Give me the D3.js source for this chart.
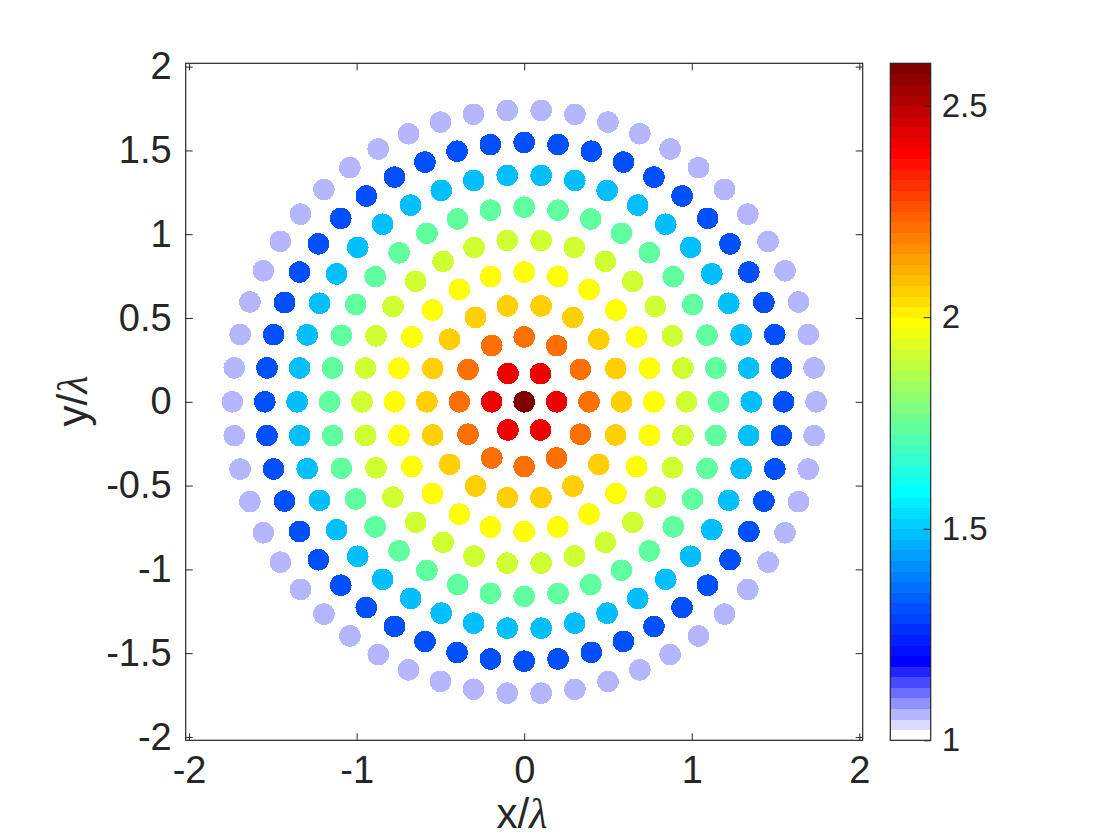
<!DOCTYPE html>
<html>
<head>
<meta charset="utf-8">
<script src="https://cdn.jsdelivr.net/npm/d3@7"></script>
<style>
  html, body { margin: 0; padding: 0; background: #fff; }
  svg text { font-family: "Liberation Sans", Arial, Helvetica, sans-serif; fill: #262626; }
  .axis line { stroke: #262626; stroke-width: 1; }
  .axis path { display: none; }
</style>
</head>
<body>
<svg id="chart" width="1120" height="840"></svg>
<script>
// Concentric rings of emitters: ring index 0 is the centre point
const ringRadius = [0, 0.194, 0.387, 0.581, 0.774, 0.968, 1.161, 1.355, 1.548, 1.742];
const ringCount = [1, 6, 12, 18, 24, 30, 36, 42, 48, 54];
const ringValue = [2.6, 2.41, 2.21, 2.06, 1.99, 1.91, 1.74, 1.49, 1.31, 1.06];

// Axis ticks
const xTicks = [-2, -1, 0, 1, 2];
const yTicks = [-2, -1.5, -1, -0.5, 0, 0.5, 1, 1.5, 2];
const cbTicks = [1, 1.5, 2, 2.5];

// Colormap: 7 white->blue steps followed by the upper part of jet (64 levels total)
const cmapLevels = 64;
const cmapStops = [0, 7, 23, 39, 55, 63];
const cmapColors = ['#ffffff', '#0000ff', '#00ffff', '#ffff00', '#ff0000', '#800000'];
const cLim = [1, 2.6];

const svg = d3.select('#chart');
const fmt = d => String(d); // plain hyphen minus like matlab

// plot box
const box = { left: 185.7, right: 862.7, top: 63.3, bottom: 740.3 };
const x = d3.scaleLinear().domain([-2.02, 2.02]).range([box.left, box.right]);
const y = d3.scaleLinear().domain([-2.02, 2.02]).range([box.bottom, box.top]);

// build the 64 colour levels
const stopScale = d3.scaleLinear().domain(cmapStops).range(cmapColors).interpolate(d3.interpolateRgb);
const levels = d3.range(cmapLevels).map(k => stopScale(k));
const color = d3.scaleQuantize().domain(cLim).range(levels);

// points from rings
const points = [];
ringRadius.forEach((r, i) => {
    for (let k = 0; k < ringCount[i]; k++) {
        const a = 2 * Math.PI * k / ringCount[i];
        points.push({ x: r * Math.cos(a), y: r * Math.sin(a), v: ringValue[i] });
    }
});

svg.append('g')
    .selectAll('circle')
    .data(points)
    .enter()
    .append('circle')
    .attr('cx', d => x(d.x))
    .attr('cy', d => y(d.y))
    .attr('r', 10.8)
    .attr('fill', d => color(d.v))
    .attr('shape-rendering', 'crispEdges');

// axes with inward ticks on all four sides
svg.append('g')
    .attr('class', 'axis')
    .attr('transform', `translate(0,${box.bottom})`)
    .call(d3.axisBottom(x).tickValues(xTicks).tickSizeInner(-7).tickSizeOuter(0).tickPadding(16).tickFormat(fmt))
    .selectAll('text').style('font-size', '38px');

svg.append('g')
    .attr('class', 'axis')
    .attr('transform', `translate(0,${box.top})`)
    .call(d3.axisTop(x).tickValues(xTicks).tickSizeInner(-7).tickSizeOuter(0).tickFormat(''));

svg.append('g')
    .attr('class', 'axis')
    .attr('transform', `translate(${box.left},0)`)
    .call(d3.axisLeft(y).tickValues(yTicks).tickSizeInner(-7).tickSizeOuter(0).tickPadding(14).tickFormat(fmt))
    .selectAll('text').style('font-size', '38px');

svg.append('g')
    .attr('class', 'axis')
    .attr('transform', `translate(${box.right},0)`)
    .call(d3.axisRight(y).tickValues(yTicks).tickSizeInner(-7).tickSizeOuter(0).tickFormat(''));

svg.append('rect')
    .attr('x', box.left).attr('y', box.top)
    .attr('width', box.right - box.left).attr('height', box.bottom - box.top)
    .attr('fill', 'none').attr('stroke', '#262626').attr('stroke-width', 1.2);

// axis labels
const xl = svg.append('text')
    .attr('x', 522).attr('y', 828)
    .attr('text-anchor', 'middle')
    .style('font-size', '42px');
xl.append('tspan').text('x/');
xl.append('tspan').style('font-family', '"Liberation Serif", serif').style('font-style', 'italic').text('λ');

const yl = svg.append('text')
    .attr('transform', 'translate(87,401) rotate(-90)')
    .attr('text-anchor', 'middle')
    .style('font-size', '42px');
yl.append('tspan').text('y/');
yl.append('tspan').style('font-family', '"Liberation Serif", serif').style('font-style', 'italic').text('λ');

// colorbar
const cb = { left: 890.3, right: 930.7, top: 63.3, bottom: 740.3 };
const cy = d3.scaleLinear().domain(cLim).range([cb.bottom, cb.top]);
const step = (cLim[1] - cLim[0]) / cmapLevels;

svg.append('g')
    .selectAll('rect')
    .data(levels)
    .enter()
    .append('rect')
    .attr('x', cb.left)
    .attr('width', cb.right - cb.left)
    .attr('y', (d, k) => cy(cLim[0] + (k + 1) * step))
    .attr('height', (d, k) => cy(cLim[0] + k * step) - cy(cLim[0] + (k + 1) * step) + 0.5)
    .attr('fill', d => d)
    .attr('shape-rendering', 'crispEdges');

svg.append('g')
    .attr('class', 'axis')
    .attr('transform', `translate(${cb.right},0)`)
    .call(d3.axisRight(cy).tickValues(cbTicks).tickSizeInner(-7).tickSizeOuter(0).tickPadding(11).tickFormat(fmt))
    .selectAll('text').style('font-size', '33px');

svg.append('rect')
    .attr('x', cb.left).attr('y', cb.top)
    .attr('width', cb.right - cb.left).attr('height', cb.bottom - cb.top)
    .attr('fill', 'none').attr('stroke', '#262626').attr('stroke-width', 1.2);
</script>
</body>
</html>
